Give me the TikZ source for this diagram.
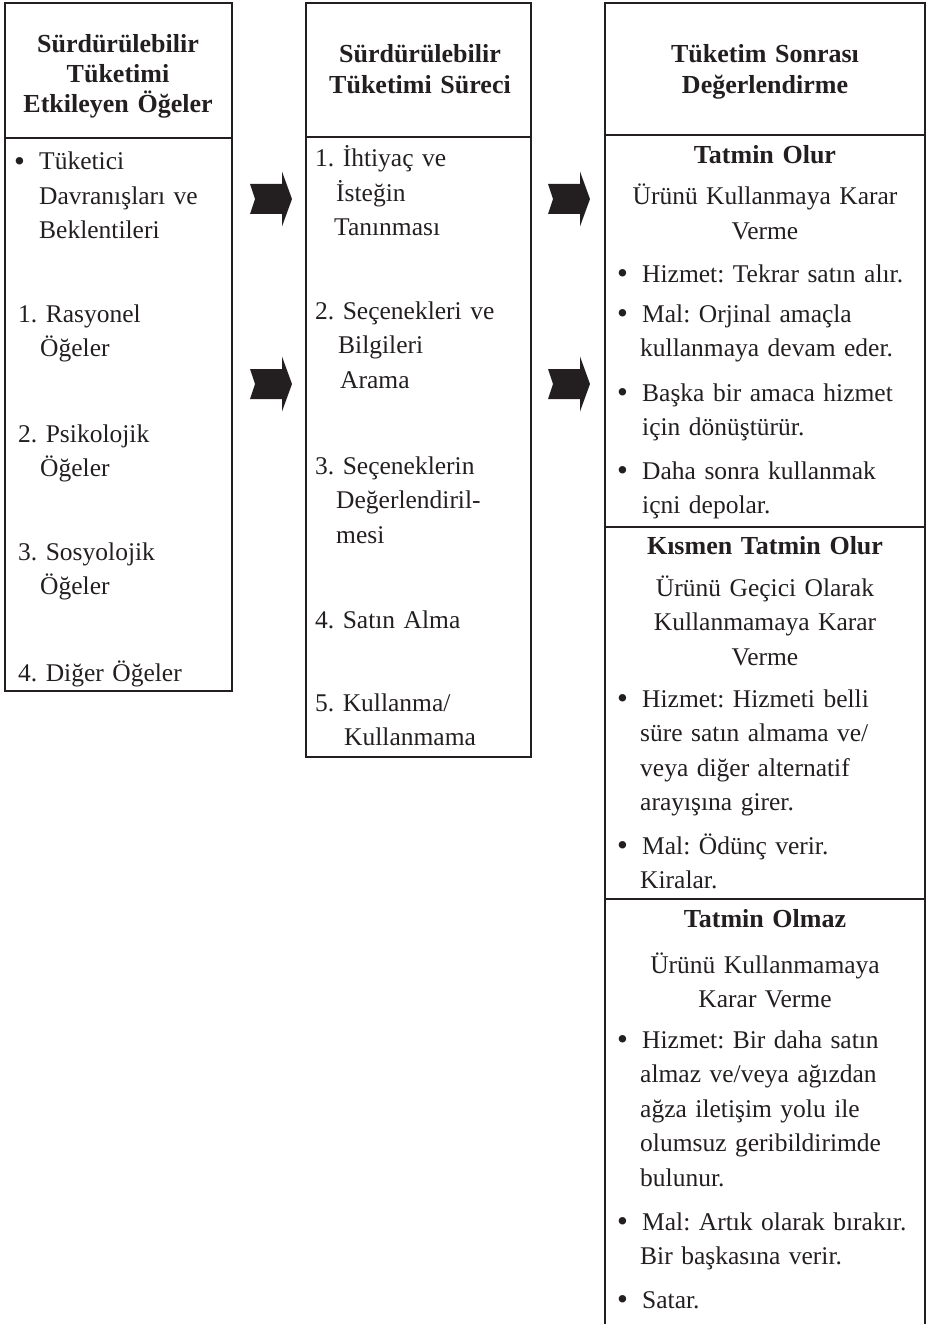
\documentclass[tikz,border=0pt]{standalone}
\usepackage{fontspec}
\setmainfont{Liberation Serif}
\usepackage{tikz}
\usetikzlibrary{positioning}

\definecolor{ink}{RGB}{35,31,32}
\newcommand\ind[1]{\hspace*{#1}}
\newcommand\bul{\makebox[25pt][l]{\raisebox{-1.5pt}{\fontsize{31}{31}\selectfont\textbullet}}}

\tikzset{
  boxline/.style={draw=ink, line width=2pt},
  head/.style={font=\bfseries\fontsize{26}{31}\selectfont, align=center, text width=310pt, inner sep=0pt, anchor=base, text=ink},
  sub/.style={font=\fontsize{25.5}{34.5}\selectfont, align=center, text width=320pt, inner sep=0pt, anchor=base, text=ink},
  entry/.style={font=\fontsize{25.5}{34.5}\selectfont, align=left, text width=330pt, inner sep=0pt, anchor=base west, text=ink},
  chev/.pic={\fill[ink] (0,-15) -- (32,-15) -- (32,-27.5) -- (42,0) -- (32,27.5) -- (32,15) -- (0,15) -- (5,0) -- cycle;}
}

\begin{document}
\frenchspacing
\begin{tikzpicture}[x=1pt, y=-1pt]

  \newcommand\Lx{5};
  \newcommand\Mx{306};
  \newcommand\Rx{605};

  \useasboundingbox (0,0) rectangle (927,1324);

  %% the three boxes
  \draw[boxline] (\Lx,3) rectangle (232,691);
  \draw[boxline] (\Lx,138) -- (232,138);
  \draw[boxline] (\Mx,3) rectangle (531,757);
  \draw[boxline] (\Mx,137) -- (531,137);
  \draw[boxline] (\Rx,1340) -- (\Rx,3) -- (925,3) -- (925,1340);
  \draw[boxline] (\Rx,135) -- (925,135);
  \draw[boxline] (\Rx,527) -- (925,527);
  \draw[boxline] (\Rx,899) -- (925,899);

  %% left column
  \node[head, font=\bfseries\fontsize{26}{30}\selectfont] (lhead) at (118,53) {Sürdürülebilir\\Tüketimi\\Etkileyen Öğeler};
  \node[entry] (l0) at (\Lx+9,170) {\bul Tüketici\\\ind{25pt}Davranışları ve\\\ind{25pt}Beklentileri};
  \node[entry] (l1) at (\Lx+13,322) {1. Rasyonel\\\ind{22pt}Öğeler};
  \node[entry] (l2) at (\Lx+13,442) {2. Psikolojik\\\ind{22pt}Öğeler};
  \node[entry] (l3) at (\Lx+13,560) {3. Sosyolojik\\\ind{22pt}Öğeler};
  \node[entry] (l4) at (\Lx+13,681) {4. Diğer Öğeler};

  %% middle column
  \node[head] (mhead) at (420,63) {Sürdürülebilir\\Tüketimi Süreci};
  \node[entry] (m1) at (\Mx+9,167) {1. İhtiyaç ve\\\ind{21pt}İsteğin\\\ind{19pt}Tanınması};
  \node[entry] (m2) at (\Mx+9,319) {2. Seçenekleri ve\\\ind{23pt}Bilgileri\\\ind{25pt}Arama};
  \node[entry] (m3) at (\Mx+9,474) {3. Seçeneklerin\\\ind{21pt}Değerlendiril-\\\ind{21pt}mesi};
  \node[entry] (m4) at (\Mx+9,628) {4. Satın Alma};
  \node[entry] (m5) at (\Mx+9,711) {5. Kullanma/\\\ind{29pt}Kullanmama};

  %% right column
  \node[head] (rhead) at (765,63) {Tüketim Sonrası\\Değerlendirme};

  \node[head] (t1) at (765,164) {Tatmin Olur};
  \node[sub] (t1s) at (765,205) {Ürünü Kullanmaya Karar\\Verme};
  \node[entry] (r11) at (\Rx+12,282) {\bul Hizmet: Tekrar satın alır.};
  \node[entry] (r12) at (\Rx+12,322) {\bul Mal: Orjinal amaçla\\\ind{23pt}kullanmaya devam eder.};
  \node[entry] (r13) at (\Rx+12,401) {\bul Başka bir amaca hizmet\\\ind{25pt}için dönüştürür.};
  \node[entry] (r14) at (\Rx+12,479) {\bul Daha sonra kullanmak\\\ind{25pt}içni depolar.};

  \node[head] (t2) at (765,554) {Kısmen Tatmin Olur};
  \node[sub] (t2s) at (765,596) {Ürünü Geçici Olarak\\Kullanmamaya Karar\\Verme};
  \node[entry] (r21) at (\Rx+12,707) {\bul Hizmet: Hizmeti belli\\\ind{23pt}süre satın almama ve/\\\ind{23pt}veya diğer alternatif\\\ind{23pt}arayışına girer.};
  \node[entry] (r22) at (\Rx+12,854) {\bul Mal: Ödünç verir.\\\ind{23pt}Kiralar.};

  \node[head] (t3) at (765,927) {Tatmin Olmaz};
  \node[sub] (t3s) at (765,973) {Ürünü Kullanmamaya\\Karar Verme};
  \node[entry] (r31) at (\Rx+12,1048) {\bul Hizmet: Bir daha satın\\\ind{23pt}almaz ve/veya ağızdan\\\ind{23pt}ağza iletişim yolu ile\\\ind{23pt}olumsuz geribildirimde\\\ind{23pt}bulunur.};
  \node[entry] (r32) at (\Rx+12,1230) {\bul Mal: Artık olarak bırakır.\\\ind{23pt}Bir başkasına verir.};
  \node[entry] (r33) at (\Rx+12,1308) {\bul Satar.};

  %% chevrons between the columns
  \pic at (250,199) {chev};
  \pic at (250,384) {chev};
  \pic at (548,199) {chev};
  \pic at (548,384) {chev};

\end{tikzpicture}
\end{document}
